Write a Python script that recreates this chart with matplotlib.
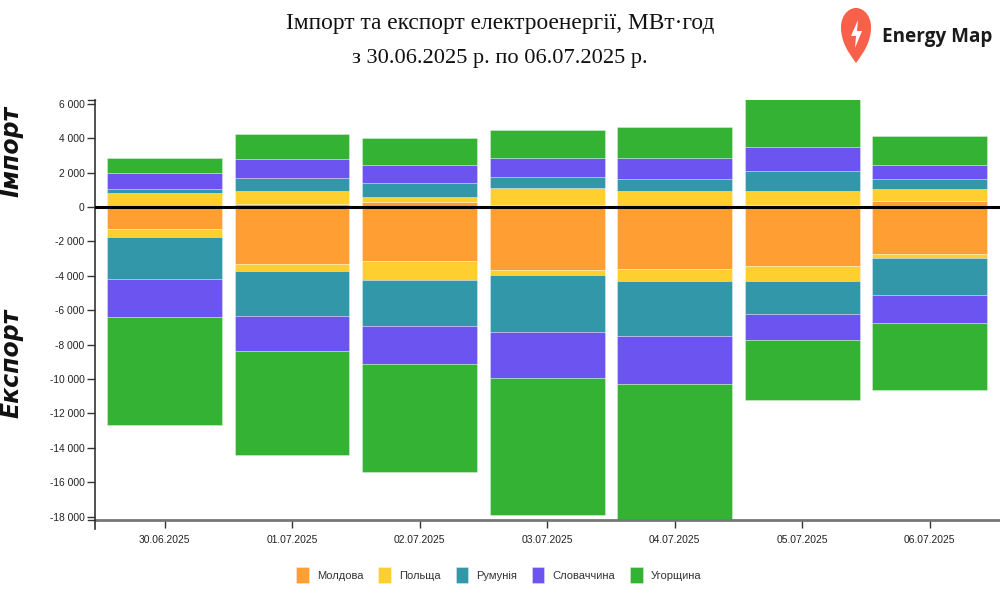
import numpy as np
import matplotlib
matplotlib.use('Agg')
import matplotlib.pyplot as plt
from matplotlib.patches import PathPatch, Polygon
from matplotlib.path import Path

dates = ['30.06.2025', '01.07.2025', '02.07.2025', '03.07.2025', '04.07.2025', '05.07.2025', '06.07.2025']
countries = ['Молдова', 'Польща', 'Румунія', 'Словаччина', 'Угорщина']
colors = ['#ff9f33', '#ffcf30', '#3297a8', '#6b54ef', '#34b233']

# імпорт, МВт·год
imp_moldova = [0, 155, 270, 100, 60, 135, 330]
imp_poland = [815, 775, 310, 1005, 870, 795, 735]
imp_romania = [250, 740, 800, 640, 720, 1180, 565]
imp_slovakia = [930, 1140, 1085, 1105, 1220, 1380, 810]
imp_hungary = [870, 1435, 1530, 1610, 1760, 2770, 1690]

# експорт, МВт·год
exp_moldova = [-1280, -3310, -3140, -3660, -3600, -3430, -2730]
exp_poland = [-465, -410, -1100, -290, -700, -870, -235]
exp_romania = [-2445, -2620, -2680, -3320, -3200, -1920, -2150]
exp_slovakia = [-2205, -2030, -2210, -2670, -2790, -1510, -1625]
exp_hungary = [-6275, -6050, -6270, -7960, -8100, -3490, -3900]

yticks = [6000, 4000, 2000, 0, -2000, -4000, -6000, -8000, -10000, -12000, -14000, -16000, -18000]
ytick_labels = ['6 000', '4 000', '2 000', '0', '-2 000', '-4 000', '-6 000', '-8 000',
                '-10 000', '-12 000', '-14 000', '-16 000', '-18 000']

imports = [imp_moldova, imp_poland, imp_romania, imp_slovakia, imp_hungary]
exports = [exp_moldova, exp_poland, exp_romania, exp_slovakia, exp_hungary]

plt.rcParams['font.family'] = ['Liberation Sans', 'DejaVu Sans']

fig = plt.figure(figsize=(10, 6), dpi=100)
ax = fig.add_axes([0.095, 0.1333, 0.905, 0.7])

x = np.arange(len(dates))
pos = np.zeros(len(dates))
neg = np.zeros(len(dates))
for name, c, up, down in zip(countries, colors, imports, exports):
    ax.bar(x, up, 0.9, bottom=pos, color=c, edgecolor=(1, 1, 1, 0.45), linewidth=0.5, label=name)
    ax.bar(x, down, 0.9, bottom=neg, color=c, edgecolor=(1, 1, 1, 0.45), linewidth=0.5)
    pos += np.array(up)
    neg += np.array(down)

ax.axhline(0, color='black', lw=2.2, zorder=5)
ax.set_xlim(-0.545, 6.55)
ax.set_ylim(-18200, 6220)
ax.set_xticks(x, dates)
ax.set_yticks(yticks, ytick_labels)
ax.tick_params(axis='both', labelsize=7.4, color='#333333', labelcolor='#222222', length=6, width=1)
ax.tick_params(axis='x', pad=4.5)
ax.tick_params(axis='y', pad=1.5)

for s in ['top', 'right']:
    ax.spines[s].set_visible(False)
ax.spines['left'].set_color('#333333')
ax.spines['left'].set_linewidth(1.2)
ax.spines['bottom'].set_color('#777777')
ax.spines['bottom'].set_linewidth(2)

# крайні засічки осей
fig.add_artist(plt.Line2D([0.095, 0.095], [0.118, 0.1333], color='#333333', lw=1.2))
fig.add_artist(plt.Line2D([0.088, 0.095], [0.1333, 0.1333], color='#333333', lw=1))
fig.add_artist(plt.Line2D([0.088, 0.095], [0.8333, 0.8333], color='#333333', lw=1))

fig.text(0.5, 0.961, 'Імпорт та експорт електроенергії, МВт·год', ha='center', va='center',
         family='Liberation Serif', fontsize=16.8, color='#111111')
fig.text(0.5, 0.902, 'з 30.06.2025 р. по 06.07.2025 р.', ha='center', va='center',
         family='Liberation Serif', fontsize=16.1, color='#111111')

fig.text(0.012, 0.747, 'Імпорт', rotation=90, ha='center', va='center', fontsize=17,
         family='DejaVu Sans', fontweight='bold', fontstyle='italic', color='#111111')
fig.text(0.012, 0.395, 'Експорт', rotation=90, ha='center', va='center', fontsize=17,
         family='DejaVu Sans', fontweight='bold', fontstyle='italic', color='#111111')

leg = fig.legend(loc='lower center', bbox_to_anchor=(0.499, 0.012), ncol=5, frameon=False,
                 fontsize=8, handlelength=1.1, handleheight=1.8, handletextpad=0.75,
                 columnspacing=1.35, labelcolor='#333333')

# логотип
logo = fig.add_axes([0, 0, 1, 1], facecolor='none')
logo.set_xlim(0, 1000)
logo.set_ylim(600, 0)
logo.axis('off')
pin = Path([(856, 63), (848, 52), (841, 42), (841, 27), (841, 16), (848, 8), (856, 8),
            (864, 8), (871, 16), (871, 27), (871, 42), (864, 52), (856, 63)],
           [Path.MOVETO, Path.CURVE4, Path.CURVE4, Path.CURVE4, Path.CURVE4, Path.CURVE4, Path.CURVE4,
            Path.CURVE4, Path.CURVE4, Path.CURVE4, Path.CURVE4, Path.CURVE4, Path.CURVE4])
logo.add_patch(PathPatch(pin, facecolor='#f9604a', edgecolor='none'))
logo.add_patch(Polygon([(858, 20), (851, 36), (856, 36), (855, 48), (862, 31), (857, 31)],
                       facecolor='white', edgecolor='none'))
logo.text(882, 37, 'Energy Map', family='Open Sans', fontweight='bold', fontsize=13.6,
          va='center', ha='left', color='#1a1a1a')

fig.savefig('out.png', dpi=100)
